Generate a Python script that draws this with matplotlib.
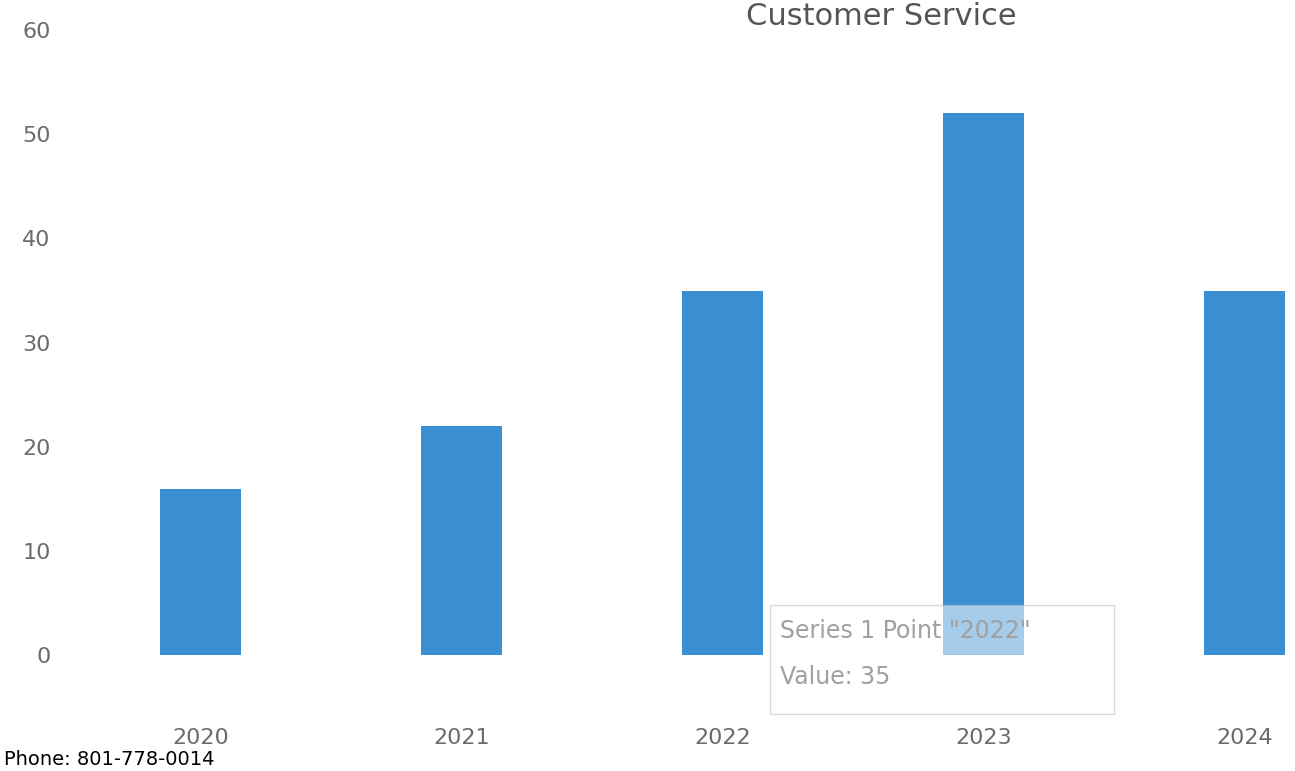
import matplotlib.pyplot as plt
from matplotlib.patches import Rectangle

# chart data
years = ['2020', '2021', '2022', '2023', '2024']
values = [16, 22, 35, 52, 35]
yticks = [0, 10, 20, 30, 40, 50, 60]

bar_color = '#3a8fd2'
text_grey = '#6b6b6b'

fig = plt.figure(figsize=(12.95, 7.71), dpi=100)
ax = fig.add_axes([0.054, 0.150, 1.008, 0.811])

x = range(len(years))
ax.bar(x, values, width=0.31, color=bar_color, zorder=2)

ax.set_xlim(-0.5, len(years) - 0.5)
ax.set_ylim(0, 60)
ax.set_yticks(yticks)
ax.set_xticks(list(x))
ax.set_xticklabels(years)
ax.tick_params(axis='y', length=0, labelsize=16, labelcolor=text_grey, pad=14)
ax.tick_params(axis='x', length=0, labelsize=16, labelcolor=text_grey, pad=52)
for s in ax.spines.values():
    s.set_visible(False)

# title (cut off at the top of the photo, kept readable here)
fig.text(0.785, 0.998, 'Customer Service', ha='right', va='top',
         fontsize=22, color='#555555')

# tooltip over the 2023 bar
tip = Rectangle((2.18, -5.6), 1.32, 10.4, facecolor='white', alpha=0.55,
                edgecolor='#bbbbbb', lw=1.0, clip_on=False, zorder=3)
ax.add_patch(tip)
ax.text(2.22, 2.3, 'Series 1 Point "2022"', fontsize=17, color='#a0a0a0',
        va='center', zorder=4, clip_on=False)
ax.text(2.22, -2.1, 'Value: 35', fontsize=17, color='#a0a0a0',
        va='center', zorder=4, clip_on=False)

# contact line at the bottom edge of the photo
fig.text(0.003, 0.003, 'Phone: 801-778-0014', ha='left', va='bottom',
         fontsize=14, color='black')

plt.savefig('out.png', dpi=100)
